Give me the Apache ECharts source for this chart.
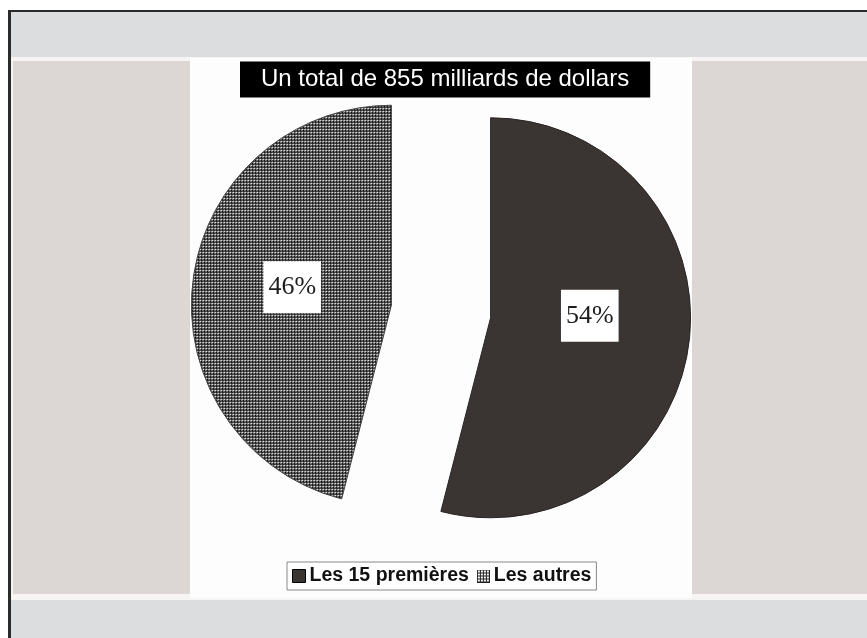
<!DOCTYPE html>
<html>
<head>
<meta charset="utf-8">
<script src="https://cdn.jsdelivr.net/npm/echarts@6/dist/echarts.min.js"></script>
<style>
html,body{margin:0;padding:0;background:#fff;}
#chart{width:867px;height:638px;}
</style>
</head>
<body>
<div id="chart"></div>
<script>
// ---- data ----
const titleText = 'Un total de 855 milliards de dollars';
const categories = ['Les 15 premières', 'Les autres'];
const values = [54, 46];
const labels = ['54%', '46%'];

// ---- patterns ----
function makeDots() {
  const c = document.createElement('canvas');
  c.width = 3; c.height = 3;
  const g = c.getContext('2d');
  g.fillStyle = '#111';
  g.fillRect(0, 0, 3, 3);
  g.fillStyle = '#fff';
  g.fillRect(0, 0, 2, 1);
  g.fillRect(0, 1, 1, 1);
  return c;
}
function makeLegendIcon() {
  const c = document.createElement('canvas');
  c.width = 13; c.height = 13;
  const g = c.getContext('2d');
  g.fillStyle = '#fff';
  g.fillRect(0, 0, 13, 13);
  g.fillStyle = '#222';
  g.fillRect(0, 0, 13, 1); g.fillRect(0, 12, 13, 1);
  g.fillRect(0, 0, 1, 13); g.fillRect(12, 0, 1, 13);
  g.fillRect(6, 0, 1, 13); g.fillRect(0, 6, 13, 1);
  g.fillRect(3, 0, 1, 13); g.fillRect(9, 0, 1, 13);
  g.fillRect(0, 3, 13, 1); g.fillRect(0, 9, 13, 1);
  return c.toDataURL();
}
const dotPattern = { image: makeDots(), repeat: 'repeat' };
const legendIcon = 'image://' + makeLegendIcon();

const chart = echarts.init(document.getElementById('chart'), null, { renderer: 'canvas' });

const sliceStyles = [
  { color: '#3a3432', borderColor: '#2a2524', borderWidth: 1 },
  { color: dotPattern, borderColor: '#444', borderWidth: 1 }
];

chart.setOption({
  animation: false,
  backgroundColor: '#fff',
  graphic: [
    { type: 'rect', silent: true, z: -10, shape: { x: 8, y: 10, width: 859, height: 628 }, style: { fill: '#dcdddf' } },
    { type: 'rect', silent: true, z: -9, shape: { x: 11, y: 57, width: 856, height: 543 }, style: { fill: '#f7f5f4' } },
    { type: 'rect', silent: true, z: -8, shape: { x: 13, y: 61, width: 177, height: 533 }, style: { fill: '#dcd6d4' } },
    { type: 'rect', silent: true, z: -8, shape: { x: 692, y: 61, width: 175, height: 533 }, style: { fill: '#dcd6d4' } },
    { type: 'rect', silent: true, z: -8, shape: { x: 190, y: 58, width: 502, height: 540 }, style: { fill: '#fdfdfd' } },
    { type: 'rect', silent: true, z: -7, shape: { x: 8, y: 10, width: 3, height: 628 }, style: { fill: '#2b2b2b' } },
    { type: 'rect', silent: true, z: -7, shape: { x: 8, y: 10, width: 859, height: 2 }, style: { fill: '#2b2b2b' } }
  ],
  title: {
    text: titleText,
    left: 240,
    top: 62,
    backgroundColor: '#000',
    padding: [6, 21],
    textStyle: {
      color: '#fff',
      fontFamily: 'Liberation Sans, Arial, sans-serif',
      fontWeight: 'normal',
      fontSize: 24,
      lineHeight: 23
    }
  },
  legend: {
    left: 287,
    top: 562,
    orient: 'horizontal',
    selectedMode: false,
    backgroundColor: '#fff',
    borderColor: '#888',
    borderWidth: 1,
    padding: [4, 5],
    itemGap: 8,
    itemWidth: 13,
    itemHeight: 13,
    textStyle: {
      color: '#111',
      fontFamily: 'Liberation Sans, Arial, sans-serif',
      fontWeight: 'bold',
      fontSize: 19.5,
      padding: [0, 0, 0, -1]
    },
    data: [
      { name: categories[0], icon: 'rect', itemStyle: { color: '#3a3432', borderColor: '#000', borderWidth: 1 } },
      { name: categories[1], icon: legendIcon }
    ]
  },
  series: [{
    type: 'pie',
    center: [441, 311.5],
    radius: 200,
    startAngle: 90,
    clockwise: true,
    selectedMode: 'multiple',
    selectedOffset: 50,
    avoidLabelOverlap: false,
    emphasis: { disabled: true },
    label: {
      show: true,
      position: 'inner',
      formatter: function (p) { return labels[p.dataIndex]; },
      backgroundColor: '#fff',
      padding: [13, 5],
      color: '#1e1e1e',
      fontFamily: 'Liberation Serif, Times New Roman, serif',
      fontWeight: 'normal',
      fontSize: 26,
      lineHeight: 26
    },
    labelLine: { show: false },
    labelLayout: function (p) {
      return p.dataIndex === 0 ? { dx: -3, dy: -15 } : { dx: 3, dy: -5 };
    },
    data: categories.map(function (name, i) {
      return { name: name, value: values[i], selected: true, itemStyle: sliceStyles[i] };
    })
  }]
});
</script>
</body>
</html>
